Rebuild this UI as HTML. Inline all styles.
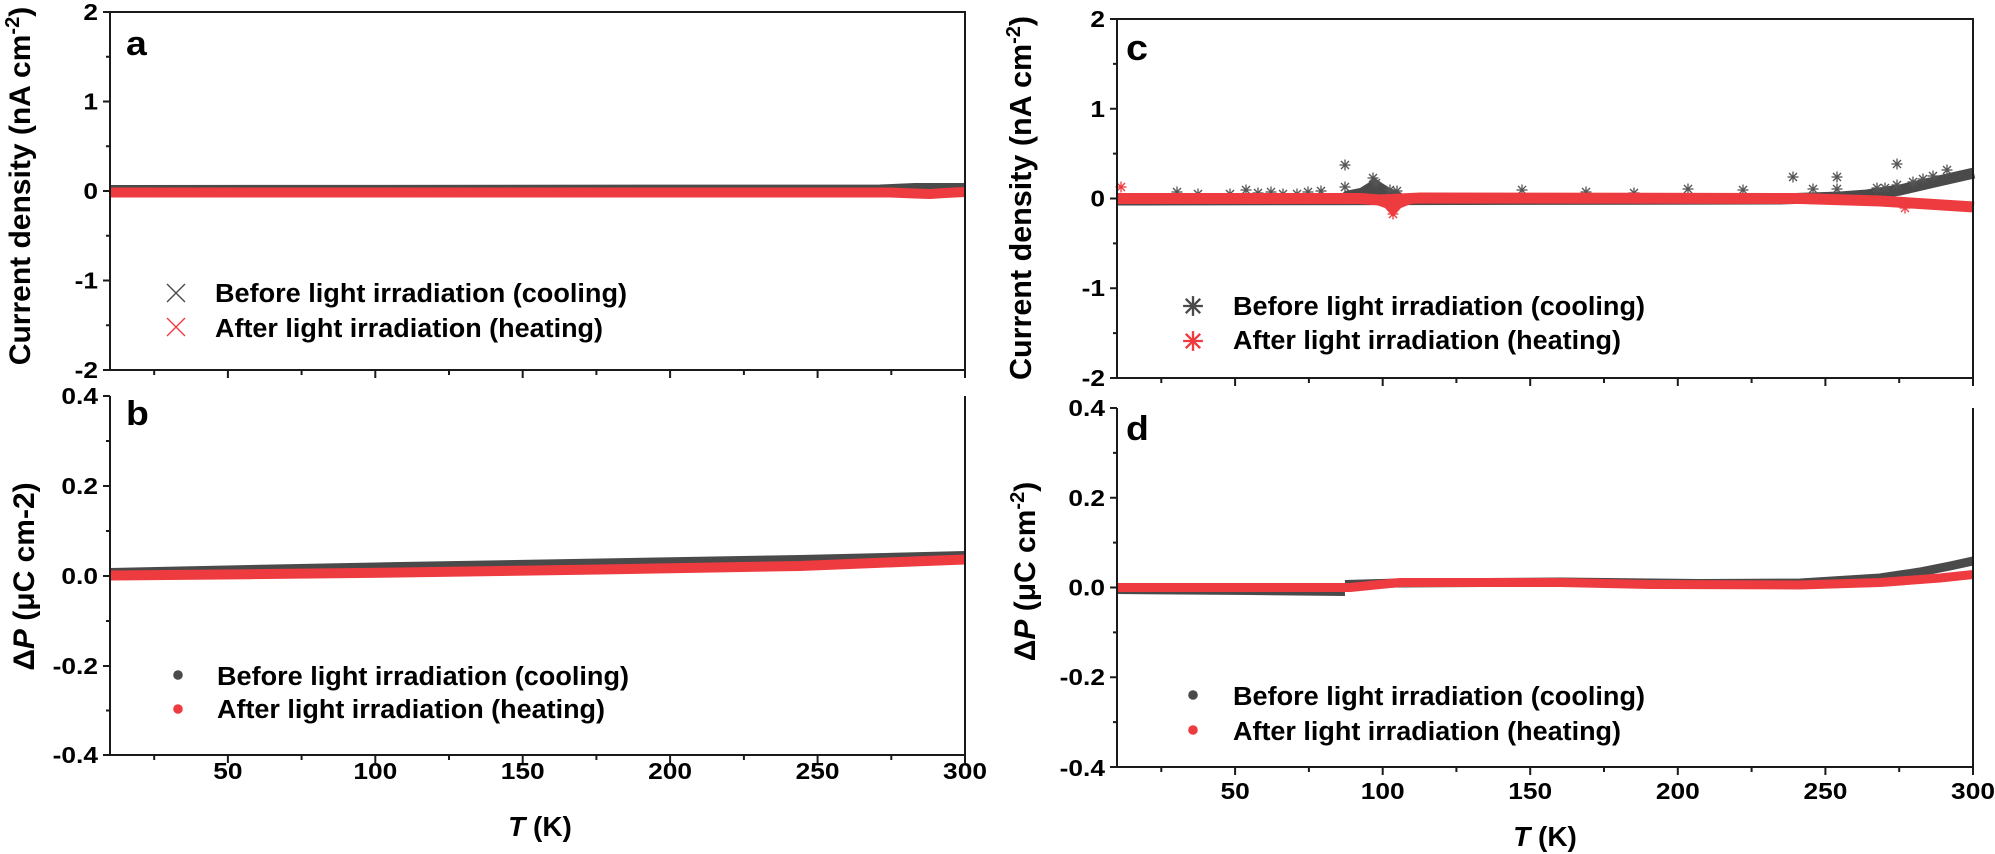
<!DOCTYPE html>
<html>
<head>
<meta charset="utf-8">
<style>
html,body{margin:0;padding:0;background:#fff;}
svg{display:block;}
text{font-family:"Liberation Sans",Arial,sans-serif;font-weight:bold;fill:#000;}
</style>
</head>
<body>
<svg width="1995" height="854" viewBox="0 0 1995 854" xmlns="http://www.w3.org/2000/svg">
<defs>
  <g id="as">
    <line x1="0" y1="-5.5" x2="0" y2="5.5"/>
    <line x1="-5.5" y1="0" x2="5.5" y2="0"/>
    <line x1="-4" y1="-4" x2="4" y2="4"/>
    <line x1="-4" y1="4" x2="4" y2="-4"/>
  </g>
</defs>
<rect width="1995" height="854" fill="#fff"/>

<!-- ================= PANEL A ================= -->
<g fill="none" stroke-linejoin="round" stroke-linecap="butt">
  <path d="M110,188 L880,187.5 L915,186 L965,186" stroke="#4a4a4a" stroke-width="6"/>
  <path d="M110,192.5 L890,192.5 L915,193.5 L930,194 L945,193 L965,192" stroke="#ee3b3f" stroke-width="10"/>
</g>
<g stroke="#1a1a1a" stroke-width="2" fill="none">
  <rect x="110" y="12" width="855" height="358"/>
  <path d="M103,12H110 M103,101.5H110 M103,191H110 M103,280.5H110 M103,370H110"/>
  <path d="M106,56.75H110 M106,146.25H110 M106,235.75H110 M106,325.25H110"/>
  <path d="M227.9,370V378 M375.3,370V378 M522.7,370V378 M670.1,370V378 M817.6,370V378 M965,370V378"/>
  <path d="M154.2,370V375 M301.6,370V375 M449,370V375 M596.4,370V375 M743.9,370V375 M891.3,370V375"/>
</g>
<g font-size="23.5" text-anchor="end">
  <text transform="translate(98,20) scale(1.12,1)">2</text>
  <text transform="translate(98,109.5) scale(1.12,1)">1</text>
  <text transform="translate(98,199) scale(1.12,1)">0</text>
  <text transform="translate(98,288.5) scale(1.12,1)">-1</text>
  <text transform="translate(98,378) scale(1.12,1)">-2</text>
</g>
<text transform="translate(126,55) scale(1.1,1)" font-size="34">a</text>
<text transform="translate(30,186) rotate(-90)" text-anchor="middle" font-size="30">Current density (nA cm<tspan dy="-11" font-size="20">-2</tspan><tspan dy="11">)</tspan></text>
<g stroke-width="1.4">
  <path d="M167,284 L185,302 M185,284 L167,302" stroke="#4a4a4a"/>
  <path d="M167,318 L185,336 M185,318 L167,336" stroke="#ee3b3f"/>
</g>
<text x="215" y="302" font-size="25.5" textLength="412" lengthAdjust="spacingAndGlyphs">Before light irradiation (cooling)</text>
<text x="215" y="337" font-size="25.5" textLength="388" lengthAdjust="spacingAndGlyphs">After light irradiation (heating)</text>

<!-- ================= PANEL B ================= -->
<g fill="none" stroke-linejoin="round">
  <path d="M110,572 L250,569 L400,566 L600,562.5 L800,559 L965,555" stroke="#4a4a4a" stroke-width="8"/>
  <path d="M110,575.5 L250,574.2 L400,572.5 L600,569.5 L800,566 L900,562 L965,559.5" stroke="#ee3b3f" stroke-width="10"/>
</g>
<g stroke="#1a1a1a" stroke-width="2" fill="none">
  <path d="M110,396V755H965V396"/>
  <path d="M103,396H110 M103,486H110 M103,576H110 M103,666H110 M103,755H110"/>
  <path d="M106,441H110 M106,531H110 M106,621H110 M106,710.5H110"/>
  <path d="M227.9,755V763 M375.3,755V763 M522.7,755V763 M670.1,755V763 M817.6,755V763 M965,755V763"/>
  <path d="M154.2,755V760 M301.6,755V760 M449,755V760 M596.4,755V760 M743.9,755V760 M891.3,755V760"/>
</g>
<g font-size="23.5" text-anchor="end">
  <text transform="translate(98,404) scale(1.12,1)">0.4</text>
  <text transform="translate(98,494) scale(1.12,1)">0.2</text>
  <text transform="translate(98,584) scale(1.12,1)">0.0</text>
  <text transform="translate(98,674) scale(1.12,1)">-0.2</text>
  <text transform="translate(98,763) scale(1.12,1)">-0.4</text>
</g>
<g font-size="23.5" text-anchor="middle">
  <text transform="translate(227.9,779) scale(1.12,1)">50</text>
  <text transform="translate(375.3,779) scale(1.12,1)">100</text>
  <text transform="translate(522.7,779) scale(1.12,1)">150</text>
  <text transform="translate(670.1,779) scale(1.12,1)">200</text>
  <text transform="translate(817.6,779) scale(1.12,1)">250</text>
  <text transform="translate(965,779) scale(1.12,1)">300</text>
</g>
<text x="540" y="836" font-size="28" text-anchor="middle"><tspan font-style="italic">T</tspan> (K)</text>
<text transform="translate(126,425) scale(1.1,1)" font-size="34">b</text>
<text transform="translate(34,576.5) rotate(-90)" text-anchor="middle" font-size="30">Δ<tspan font-style="italic">P</tspan> (μC cm-2)</text>
<circle cx="178" cy="675" r="4.8" fill="#4a4a4a"/>
<circle cx="178" cy="709" r="4.8" fill="#ee3b3f"/>
<text x="217" y="685" font-size="25.5" textLength="412" lengthAdjust="spacingAndGlyphs">Before light irradiation (cooling)</text>
<text x="217" y="718" font-size="25.5" textLength="388" lengthAdjust="spacingAndGlyphs">After light irradiation (heating)</text>

<!-- ================= PANEL C ================= -->
<g fill="none" stroke-linejoin="round">
  <path d="M1117,200 L1780,199 L1840,197 L1867,195 L1900,190 L1930,183 L1974,173" stroke="#4a4a4a" stroke-width="11"/>
</g>
<path d="M1338,197 L1345,191 L1360,188 L1368,183 L1375,178 L1382,183 L1390,188 L1400,192 L1408,197 Z" fill="#4a4a4a"/>
<g stroke="#555" stroke-width="1.3">
  <use href="#as" x="1177" y="192"/><use href="#as" x="1198" y="194"/><use href="#as" x="1230" y="194"/>
  <use href="#as" x="1246" y="190"/><use href="#as" x="1258" y="193"/><use href="#as" x="1271" y="192"/>
  <use href="#as" x="1283" y="194"/><use href="#as" x="1297" y="194"/><use href="#as" x="1308" y="192"/>
  <use href="#as" x="1321" y="191"/><use href="#as" x="1345" y="165"/><use href="#as" x="1345" y="187"/>
  <use href="#as" x="1373" y="178"/><use href="#as" x="1376" y="183"/><use href="#as" x="1390" y="190"/>
  <use href="#as" x="1397" y="191"/><use href="#as" x="1522" y="190"/><use href="#as" x="1586" y="192"/>
  <use href="#as" x="1634" y="193"/><use href="#as" x="1688" y="189"/><use href="#as" x="1743" y="190"/>
  <use href="#as" x="1793" y="177"/><use href="#as" x="1813" y="189"/><use href="#as" x="1837" y="177"/>
  <use href="#as" x="1837" y="189"/><use href="#as" x="1877" y="188"/><use href="#as" x="1885" y="188"/>
  <use href="#as" x="1897" y="164"/><use href="#as" x="1897" y="185"/><use href="#as" x="1913" y="182"/>
  <use href="#as" x="1923" y="179"/><use href="#as" x="1933" y="176"/><use href="#as" x="1947" y="170"/>
</g>
<g fill="none" stroke-linejoin="round">
  <path d="M1117,198.5 L1360,198.5 L1380,200 L1400,199 L1420,198 L1800,198.5 L1880,201 L1974,207" stroke="#ee3b3f" stroke-width="11"/>
</g>
<path d="M1368,202 L1385,208 L1393,217 L1401,208 L1416,202 Z" fill="#ee3b3f"/>
<g stroke="#ee3b3f" stroke-width="1.3">
  <use href="#as" x="1121" y="187"/><use href="#as" x="1393" y="214"/><use href="#as" x="1905" y="208"/>
</g>
<g stroke="#1a1a1a" stroke-width="2" fill="none">
  <rect x="1117" y="19" width="856" height="359"/>
  <path d="M1110,19H1117 M1110,108.75H1117 M1110,198.5H1117 M1110,288.25H1117 M1110,378H1117"/>
  <path d="M1113,63.9H1117 M1113,153.6H1117 M1113,243.4H1117 M1113,333.1H1117"/>
  <path d="M1235.1,378V386 M1382.7,378V386 M1530.2,378V386 M1677.8,378V386 M1825.4,378V386 M1973,378V386"/>
  <path d="M1161.3,378V383 M1308.9,378V383 M1456.4,378V383 M1604,378V383 M1751.6,378V383 M1899.2,378V383"/>
</g>
<g font-size="23.5" text-anchor="end">
  <text transform="translate(1105,27) scale(1.12,1)">2</text>
  <text transform="translate(1105,117) scale(1.12,1)">1</text>
  <text transform="translate(1105,206.5) scale(1.12,1)">0</text>
  <text transform="translate(1105,296) scale(1.12,1)">-1</text>
  <text transform="translate(1105,386) scale(1.12,1)">-2</text>
</g>
<text transform="translate(1126,60) scale(1.1,1)" font-size="36">c</text>
<text transform="translate(1031,198) rotate(-90)" text-anchor="middle" font-size="30.5">Current density (nA cm<tspan dy="-11" font-size="20">-2</tspan><tspan dy="11">)</tspan></text>
<g stroke="#4a4a4a" stroke-width="1.3" transform="translate(1193,306) scale(1.8)"><use href="#as"/></g>
<circle cx="1193" cy="306" r="2" fill="#4a4a4a"/>
<g stroke="#ee3b3f" stroke-width="1.3" transform="translate(1193,341) scale(1.8)"><use href="#as"/></g>
<circle cx="1193" cy="341" r="2" fill="#ee3b3f"/>
<text x="1233" y="315" font-size="25.5" textLength="412" lengthAdjust="spacingAndGlyphs">Before light irradiation (cooling)</text>
<text x="1233" y="349" font-size="25.5" textLength="388" lengthAdjust="spacingAndGlyphs">After light irradiation (heating)</text>

<!-- ================= PANEL D ================= -->
<g fill="none" stroke-linejoin="round">
  <path d="M1117,589.5 L1250,590.5 L1345,591.5" stroke="#4a4a4a" stroke-width="9"/>
  <path d="M1345,584.5 L1400,583 L1560,582 L1700,583.5 L1800,583 L1880,578 L1920,572 L1950,566 L1973,561" stroke="#4a4a4a" stroke-width="9"/>
  <path d="M1117,587.5 L1350,587.5 L1375,585 L1400,582.5 L1560,582.5 L1650,584.5 L1800,585 L1880,582.5 L1940,578 L1973,574.5" stroke="#ee3b3f" stroke-width="9"/>
</g>
<g stroke="#1a1a1a" stroke-width="2" fill="none">
  <path d="M1117,408V767H1973V408"/>
  <path d="M1110,408H1117 M1110,497.75H1117 M1110,587.5H1117 M1110,677.25H1117 M1110,767H1117"/>
  <path d="M1113,452.9H1117 M1113,542.6H1117 M1113,632.4H1117 M1113,722.1H1117"/>
  <path d="M1235.1,767V775 M1382.7,767V775 M1530.2,767V775 M1677.8,767V775 M1825.4,767V775 M1973,767V775"/>
  <path d="M1161.3,767V772 M1308.9,767V772 M1456.4,767V772 M1604,767V772 M1751.6,767V772 M1899.2,767V772"/>
</g>
<g font-size="23.5" text-anchor="end">
  <text transform="translate(1105,416) scale(1.12,1)">0.4</text>
  <text transform="translate(1105,506) scale(1.12,1)">0.2</text>
  <text transform="translate(1105,595.5) scale(1.12,1)">0.0</text>
  <text transform="translate(1105,685) scale(1.12,1)">-0.2</text>
  <text transform="translate(1105,776) scale(1.12,1)">-0.4</text>
</g>
<g font-size="23.5" text-anchor="middle">
  <text transform="translate(1235.1,799) scale(1.12,1)">50</text>
  <text transform="translate(1382.7,799) scale(1.12,1)">100</text>
  <text transform="translate(1530.2,799) scale(1.12,1)">150</text>
  <text transform="translate(1677.8,799) scale(1.12,1)">200</text>
  <text transform="translate(1825.4,799) scale(1.12,1)">250</text>
  <text transform="translate(1973,799) scale(1.12,1)">300</text>
</g>
<text x="1545" y="846" font-size="28" text-anchor="middle"><tspan font-style="italic">T</tspan> (K)</text>
<text transform="translate(1126,440) scale(1.1,1)" font-size="34">d</text>
<text transform="translate(1035,571.5) rotate(-90)" text-anchor="middle" font-size="30">Δ<tspan font-style="italic">P</tspan> (μC cm<tspan dy="-11" font-size="20">-2</tspan><tspan dy="11">)</tspan></text>
<circle cx="1193" cy="695" r="4.8" fill="#4a4a4a"/>
<circle cx="1193" cy="730" r="4.8" fill="#ee3b3f"/>
<text x="1233" y="705" font-size="25.5" textLength="412" lengthAdjust="spacingAndGlyphs">Before light irradiation (cooling)</text>
<text x="1233" y="740" font-size="25.5" textLength="388" lengthAdjust="spacingAndGlyphs">After light irradiation (heating)</text>
</svg>
</body>
</html>
